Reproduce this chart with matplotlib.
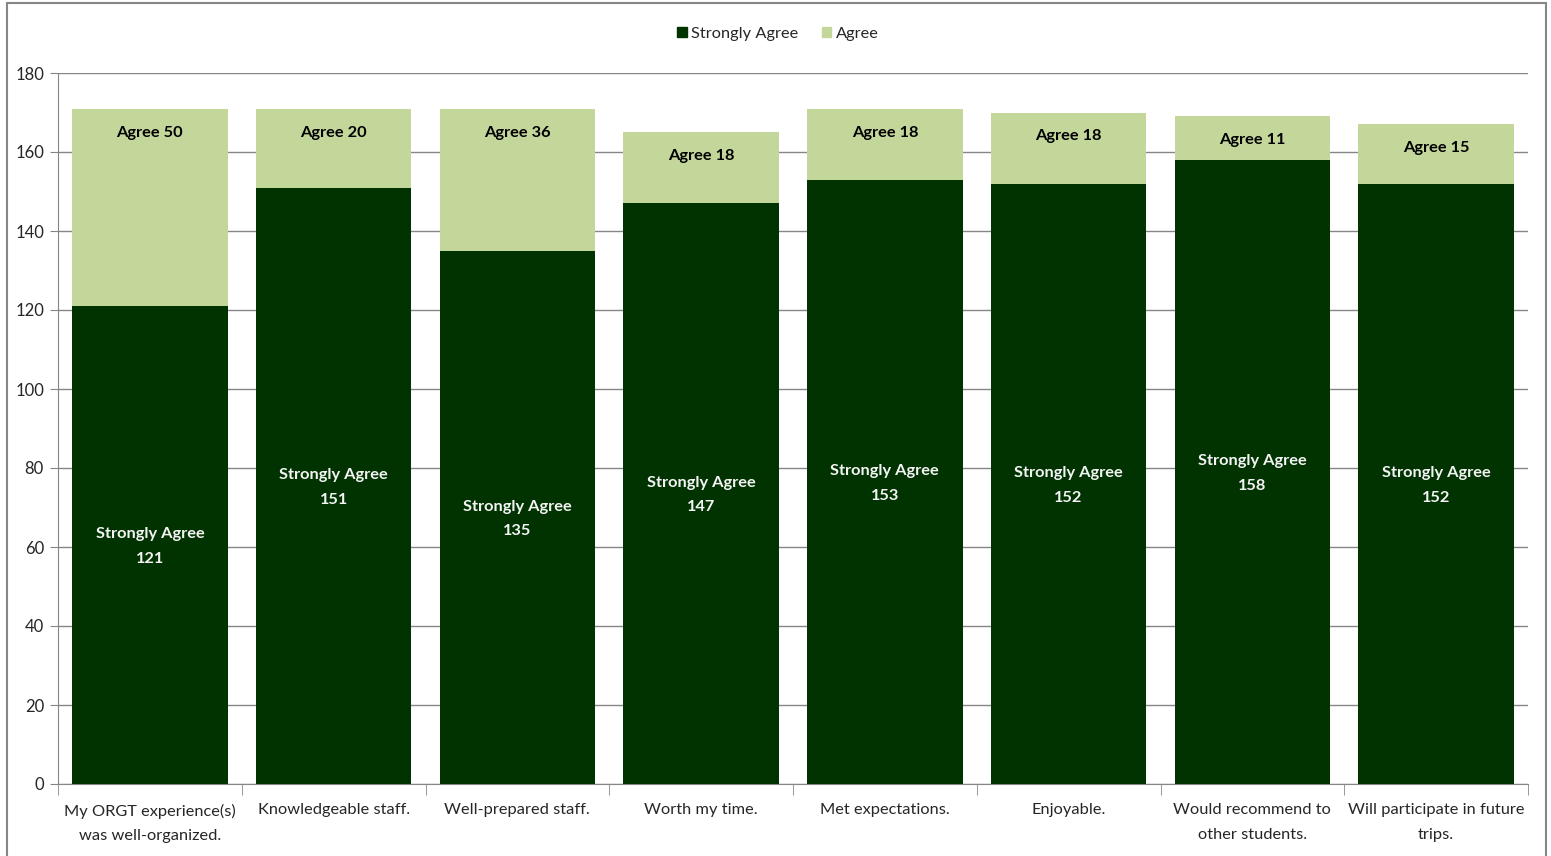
import matplotlib
matplotlib.use("Agg")
import matplotlib.pyplot as plt
from matplotlib.patches import Rectangle
import numpy as np

categories = ["My ORGT experience(s)\nwas well-organized.", "Knowledgeable staff.",
              "Well-prepared staff.", "Worth my time.", "Met expectations.",
              "Enjoyable.", "Would recommend to\nother students.",
              "Will participate in future\ntrips."]
strongly_agree = [121, 151, 135, 147, 153, 152, 158, 152]
agree = [50, 20, 36, 18, 18, 18, 11, 15]
yticks = [0, 20, 40, 60, 80, 100, 120, 140, 160, 180]

plt.rcParams['font.family'] = ['Lato', 'DejaVu Sans']

dark = "#003300"
light = "#c4d79b"
txt = "#262626"
fs = 11.8

fig = plt.figure(figsize=(15.51, 8.56), dpi=100)
ax = fig.add_axes([58/1551, 1-784/856, 1470/1551, 711/856])

x = np.arange(len(categories))
w = 0.845
ax.bar(x, strongly_agree, width=w, color=dark, zorder=3)
ax.bar(x, agree, width=w, bottom=strongly_agree, color=light, zorder=3)

for i in range(len(categories)):
    ax.text(x[i], strongly_agree[i] / 2 - 0.4, f"Strongly Agree\n{strongly_agree[i]}",
            ha='center', va='center', color='#f4f4f4', fontsize=fs, fontweight='bold',
            linespacing=1.95, zorder=4)
    top = strongly_agree[i] + agree[i]
    ax.text(x[i], top - 4.3, f"Agree {agree[i]}", ha='center', va='top',
            color='black', fontsize=fs, fontweight='bold', zorder=4)

ax.set_xlim(-0.5, len(categories) - 0.5)
ax.set_ylim(0, 180)
ax.set_yticks(yticks)
ax.yaxis.grid(True, color="#868686", linewidth=1, zorder=0)
ax.set_axisbelow(True)
for s in ['top', 'right']:
    ax.spines[s].set_visible(False)
ax.spines['left'].set_color("#868686")
ax.spines['bottom'].set_color("#868686")
ax.tick_params(axis='y', length=5.8, color="#868686", labelsize=12, labelcolor=txt, pad=4.3)
ax.set_xticks(x)
ax.set_xticklabels(categories, fontsize=fs, color=txt, linespacing=1.95)
ax.tick_params(axis='x', length=0, pad=14)
ax.set_xticks(np.arange(-0.5, len(categories)), minor=True)
ax.tick_params(axis='x', which='minor', length=8, color="#868686")

# legend
h1 = Rectangle((0, 0), 1, 1, color=dark)
h2 = Rectangle((0, 0), 1, 1, color=light)
fig.legend([h1, h2], ["Strongly Agree", "Agree"], loc='center',
           bbox_to_anchor=(778/1551, 1-34/856), ncol=2, frameon=False,
           fontsize=fs, handlelength=0.6, handleheight=0.6, handletextpad=0.3,
           columnspacing=1.4, labelcolor=txt)

# outer border
fig.patches.append(Rectangle((7/1551, -0.01), (1546-7)/1551, 1.01 - 3/856,
                             transform=fig.transFigure, fill=False,
                             edgecolor="#868686", linewidth=1.5))

fig.savefig("out.png", dpi=100)
